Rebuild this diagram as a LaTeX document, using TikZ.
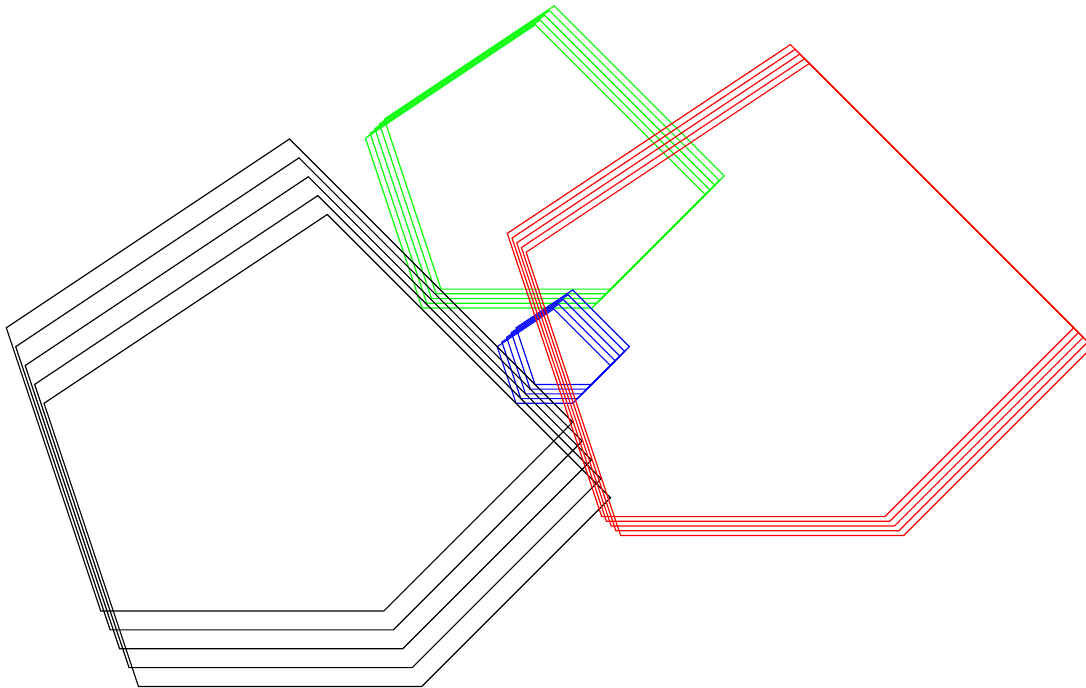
\documentclass[tikz,border=0pt]{standalone}
\usepackage{tikz}
\definecolor{pentgreen}{HTML}{00FF00}
\definecolor{pentred}{HTML}{FF0000}
\definecolor{pentblue}{HTML}{0000FF}

\begin{document}
\begin{tikzpicture}[
  line width=0.35pt,
  penta/.pic={\draw (0,0) -- (3,0) -- (5,2) -- (2,5) -- (-1,3) -- cycle;},
  blk/.style={draw=black},
  grn/.style={draw=pentgreen},
  rd/.style={draw=pentred},
  blu/.style={draw=pentblue}
]
\useasboundingbox (-1.0667,-0.8157) rectangle (10.4375,6.4725);

% green set, scaled down, sliding along its lower right side
\foreach \i in {0,...,4}
  \pic[grn,shift={(3.604-0.05*\i,3.41-0.05*\i)},scale=0.6] {penta};

% blue set, smallest
\foreach \i in {0,...,4}
  \pic[blu,shift={(4.6-0.05*\i,2.4-0.05*\i)},scale=0.2] {penta};

% black set
\foreach \i in {0,...,4}
  \pic[blk,shift={(0.1*\i,-0.2*\i)}] {penta};

% red set, sliding along its upper right side
\foreach \i in {0,...,4}
  \pic[rd,shift={(5.307+0.05*\i,1.0-0.05*\i)}] {penta};
\end{tikzpicture}
\end{document}
